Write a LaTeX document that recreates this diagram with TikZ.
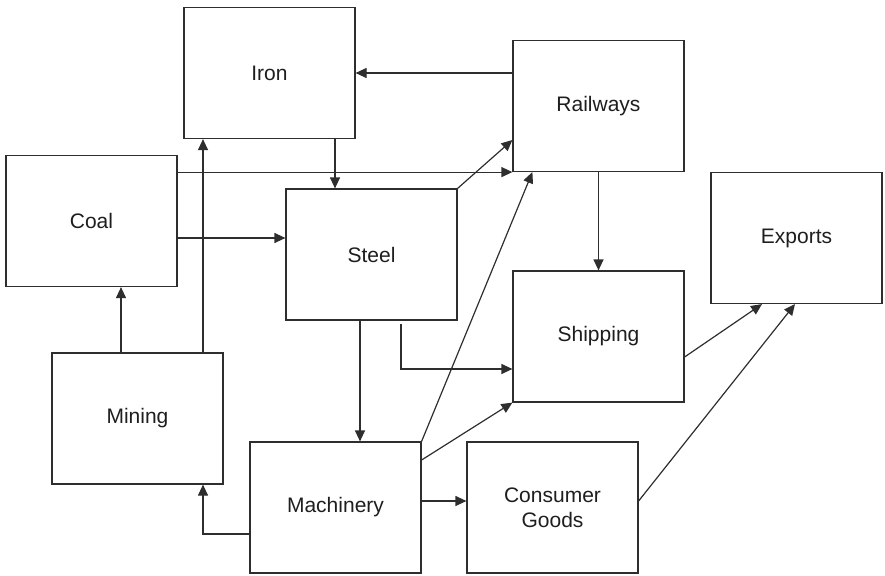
\documentclass[tikz,border=0pt]{standalone}
\usepackage{fontspec}
\setmainfont{Liberation Sans}
\usetikzlibrary{arrows.meta}
\definecolor{linegray}{HTML}{2E2E2E}
\definecolor{textgray}{HTML}{1E1E1E}
\begin{document}
\begin{tikzpicture}[x=1pt,y=1pt,
  boxnode/.style={draw=linegray,line width=1.2pt,minimum width=171pt,minimum height=131pt,
    inner sep=0pt,align=center,text=textgray,font=\fontsize{21}{25}\selectfont},
  arr/.style={draw=linegray,line width=1.2pt,-{Triangle[length=11pt,width=10pt]}},
  plain/.style={draw=linegray,line width=1.2pt}]
\useasboundingbox (0,0) rectangle (885,-575);
\node[boxnode] (iron) at (269.5,-73) {Iron};
\node[boxnode] (rail) at (598.5,-106) {Railways};
\node[boxnode] (coal) at (91.5,-221) {Coal};
\node[boxnode] (steel) at (371.5,-254.5) {Steel};
\node[boxnode] (exp) at (796.5,-238) {Exports};
\node[boxnode] (ship) at (598.5,-336.5) {Shipping};
\node[boxnode] (mining) at (137.5,-418.5) {Mining};
\node[boxnode] (mach) at (335.5,-507.5) {Machinery};
\node[boxnode] (cg) at (552.5,-507.5) {Consumer\\Goods};
% connectors
\draw[arr] (rail.west |- iron.east) -- (iron.east);
\draw[arr] ([xshift=65.5pt]iron.south) -- ([xshift=65.5pt]iron.south |- steel.north);
\draw[arr] (coal.east |- rail.south west) -- (rail.south west);
\draw[arr] ([yshift=-17pt]coal.east) -- ([yshift=-17pt]coal.east -| steel.west);
\draw[arr] (steel.north east) -- ([yshift=-34pt]rail.west);
\draw[arr] (mach.north east) -- ([xshift=20pt]rail.south west);
\draw[arr] (rail.south) -- (ship.north);
\draw[arr] ([xshift=29.5pt,yshift=-3pt]steel.south) |- ([yshift=-32.5pt]ship.west);
\draw[arr] ([xshift=-11.5pt]steel.south) -- ([xshift=-11.5pt]steel.south |- mach.north);
\draw[arr] ([xshift=-16.5pt]mining.north) -- ([xshift=-16.5pt]mining.north |- coal.south);
\draw[arr] ([xshift=65.5pt]mining.north) -- ([xshift=65.5pt]mining.north |- iron.south);
\draw[arr] ([yshift=-26.5pt]mach.west) -| ([xshift=65.5pt]mining.south);
\draw[arr] ([yshift=47.5pt]mach.east) -- (ship.south west);
\draw[arr] ([yshift=6.5pt]mach.east) -- ([yshift=6.5pt]mach.east -| cg.west);
\draw[arr] ([yshift=-20.5pt]ship.east) -- ([xshift=-34.5pt]exp.south);
\draw[arr] ([yshift=6.5pt]cg.east) -- ([xshift=-1.5pt]exp.south);
\end{tikzpicture}
\end{document}
